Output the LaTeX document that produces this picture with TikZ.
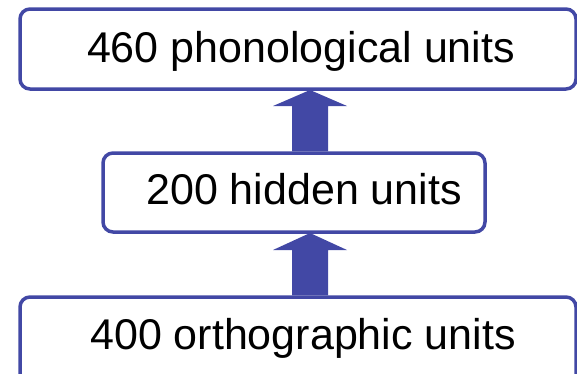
\documentclass[tikz,border=0pt]{standalone}
\usepackage{fontspec}
\setmainfont{Liberation Sans}
\definecolor{boxblue}{RGB}{66,72,165}
\begin{document}
\begin{tikzpicture}[x=1pt,y=-1pt,
  unitbox/.style={draw=boxblue, line width=3.5pt, rounded corners=10pt, fill=white, inner sep=0pt},
  unitlabel/.style={anchor=base, inner sep=0pt, font=\fontsize{43}{50}\selectfont, text=black},
  blockarrow/.style={fill=boxblue, draw=none}]
\useasboundingbox (0,0) rectangle (577,373);
\clip (0,0) rectangle (577,373);
% boxes
\node[unitbox, minimum width=556pt, minimum height=80pt] (top) at (298,49) {};
\node[unitbox, minimum width=382pt, minimum height=79pt] (mid) at (294,192.5) {};
\node[unitbox, minimum width=556pt, minimum height=110pt] (bot) at (298,352) {};
% labels
\node[unitlabel] (toplab) at (301,62) {460 phonological units};
\node[unitlabel] (midlab) at (304,204) {200 hidden units};
\node[unitlabel] (botlab) at (303,349) {400 orthographic units};
% block arrows
\coordinate (a1tip) at (310,90);
\coordinate (a2tip) at (310,233);
\fill[blockarrow] (a1tip) -- (347,106) -- (328,106) -- ([xshift=34pt]mid.north) -- ([xshift=-2pt]mid.north) -- (292,106) -- (273,106) -- cycle;
\fill[blockarrow] (a2tip) -- (347,250) -- (328,250) -- ([xshift=30pt]bot.north) -- ([xshift=-6pt]bot.north) -- (292,250) -- (273,250) -- cycle;
\end{tikzpicture}
\end{document}
